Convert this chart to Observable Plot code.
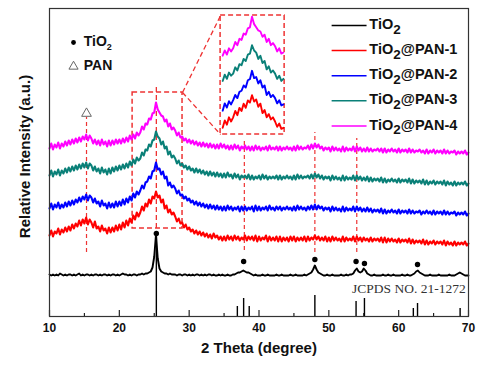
<!DOCTYPE html>
<html><head><meta charset="utf-8">
<script src="https://cdn.jsdelivr.net/npm/d3@7"></script>
<script src="https://cdn.jsdelivr.net/npm/@observablehq/plot@0.6"></script>
<style>html,body{margin:0;padding:0;background:#fff;}#chart{width:490px;height:369px;}</style>
</head><body><div id="chart"></div>
<script>
// ---- data ----
const seriesNames = ["TiO2", "TiO2@PAN-1", "TiO2@PAN-2", "TiO2@PAN-3", "TiO2@PAN-4"];
const seriesColors = ["#000000", "#ff0000", "#0000ff", "#0a8078", "#ff00ff"];
const thetaStart = 10, thetaStep = 0.25;   // 2θ sampling grid, 10–70°
const tio2 = [
42,41,42,41, 42,41,43,42, 41,42,41,42, 42,41,42,41, 42,43,41,42, 41,42,42,41, 42,41,42,42, 41,42,41,42, 42,41,42,41, 42,42,41,42,
41,42,43,42, 42,41,42,41, 42,42,41,42, 42,43,42,43, 43,44,45,49, 60,82,58,48, 45,44,43,43, 42,43,42,42, 42,41,42,42, 41,42,42,41,
42,41,42,41, 42,42,41,42, 41,42,41,42, 42,41,42,41, 41,42,41,42, 41,41,42,41, 41,42,42,43, 44,44,45,46, 45,44,44,43, 42,41,42,41,
41,41,42,41, 41,42,41,41, 41,41,42,41, 41,42,41,41, 41,41,42,41, 41,42,41,41, 41,41,42,41, 42,43,44,47, 51,47,44,43, 42,41,41,42,
41,41,42,41, 41,41,41,42, 41,41,42,41, 42,42,43,46, 48,45,44,45, 48,46,43,42, 41,41,42,41, 41,41,41,42, 41,41,42,41, 41,42,41,41,
41,41,42,41, 41,42,41,41, 42,43,45,46, 44,43,42,41, 41,41,42,41, 41,41,41,42, 41,41,41,41, 41,42,41,41, 41,42,43,44, 43,42,41,41,
41];
const pan1 = [
81,86,80,85, 83,88,82,87, 84,89,85,90, 86,92,88,93, 90,96,91,97, 93,99,92,97, 94,89,95,88, 90,85,91,86, 88,83,89,84, 89,85,91,86,
92,87,94,89, 96,91,98,94, 101,97,104,100, 104,110,106,113, 110,117,113,120, 118,125,119,121, 114,117,108,111, 104,107,102,104, 100,95,98,93, 94,89,92,87,
89,85,87,83, 86,82,85,81, 84,80,83,79, 82,78,83,79, 81,77,80,76, 80,76,81,77, 80,76,81,77, 80,76,79,77, 81,76,80,77, 80,76,81,75,
80,76,79,77, 81,75,80,76, 79,76,80,75, 80,75,79,76, 79,75,80,76, 80,75,79,76, 79,76,80,75, 80,76,79,77, 81,77,80,76, 79,76,80,75,
79,75,80,76, 79,76,78,75, 80,75,79,76, 78,76,80,75, 80,76,79,75, 79,76,78,75, 79,75,78,76, 78,75,79,74, 79,74,78,75, 78,75,77,74,
78,74,77,75, 77,74,78,73, 77,73,76,74, 76,73,77,72, 76,72,75,73, 76,72,75,73, 75,72,76,71, 75,72,74,71, 75,71,74,72, 74,72,75,71,
73];
const pan2 = [
108,113,107,112, 109,114,108,112, 109,114,110,115, 111,116,112,117, 114,119,115,120, 117,122,116,121, 119,114,118,113, 115,110,116,111, 113,108,114,109, 113,109,115,110,
115,111,117,112, 118,114,120,116, 123,119,125,122, 126,131,128,134, 135,140,138,145, 146,154,147,148, 142,145,138,140, 131,134,129,131, 128,123,126,121, 122,118,120,116,
118,114,116,112, 115,111,114,110, 113,109,112,108, 112,108,111,107, 111,107,110,106, 110,106,111,107, 110,106,109,107, 110,105,110,106, 110,106,109,107, 110,105,111,106,
110,106,109,107, 110,106,111,107, 109,106,110,107, 110,106,109,107, 110,107,109,106, 110,106,111,107, 110,107,109,106, 110,107,111,107, 112,107,111,108, 110,106,109,107,
109,105,110,106, 109,106,108,105, 110,105,109,106, 108,106,110,105, 110,106,109,105, 108,105,109,105, 108,104,107,105, 107,104,108,103, 107,103,106,104, 107,104,106,103,
107,103,106,104, 106,103,107,103, 106,103,105,104, 106,102,105,103, 106,103,105,102, 106,102,105,103, 105,102,106,102, 105,102,104,103, 105,101,104,102, 104,102,105,101,
103];
const pan3 = [
141,146,140,145, 142,147,141,146, 143,148,144,149, 145,150,146,151, 147,152,148,153, 149,154,148,153, 151,146,150,145, 148,143,149,144, 147,142,148,143, 149,145,150,146,
151,147,152,148, 153,149,155,151, 157,153,159,156, 158,164,161,167, 166,172,170,176, 177,185,180,178, 172,175,168,170, 162,165,159,161, 158,153,156,151, 153,149,151,147,
150,146,148,144, 148,144,147,143, 146,142,145,141, 145,141,144,140, 144,140,143,139, 143,139,144,140, 142,138,143,139, 142,137,141,139, 141,138,142,137, 141,137,140,138,
141,137,142,138, 141,137,140,138, 140,138,141,137, 141,137,140,138, 141,138,140,137, 141,137,142,138, 141,138,140,139, 141,138,142,138, 143,139,142,138, 141,137,140,138,
140,136,141,137, 140,137,139,136, 141,136,140,137, 139,137,141,136, 141,137,140,136, 139,136,140,135, 139,135,138,136, 138,135,139,134, 138,134,137,135, 138,135,137,134,
138,134,137,135, 137,134,138,133, 137,133,136,134, 136,133,137,132, 136,132,135,133, 136,132,135,133, 135,132,136,131, 135,132,134,131, 135,131,134,132, 134,132,135,131,
133];
const pan4 = [
168,173,167,172, 169,174,168,173, 170,175,171,176, 172,177,173,178, 174,179,175,180, 177,182,176,181, 178,173,177,172, 176,171,177,172, 175,170,176,171, 176,172,177,173,
177,173,178,174, 179,175,181,177, 182,178,184,181, 184,190,187,193, 192,198,197,203, 204,214,207,204, 201,200,195,197, 190,193,187,189, 186,181,184,179, 180,176,178,174,
177,173,176,172, 175,171,174,170, 174,170,173,169, 173,169,172,168, 172,168,173,169, 172,168,171,167, 171,167,172,168, 171,166,170,168, 171,167,170,166, 170,166,171,167,
170,166,169,167, 170,166,171,167, 169,167,170,166, 170,166,169,167, 170,167,169,166, 170,166,171,167, 170,167,169,168, 171,167,172,168, 173,169,172,168, 170,166,169,167,
169,165,170,166, 169,166,168,165, 170,165,169,166, 168,166,170,165, 170,166,169,165, 168,165,169,165, 168,165,167,166, 168,165,168,164, 168,164,167,165, 168,165,167,164,
168,164,167,165, 167,164,168,164, 167,164,166,165, 167,164,166,163, 167,163,166,164, 167,163,166,164, 166,163,167,163, 166,163,165,164, 166,162,165,163, 165,163,166,162,
164];
const seriesValues = [tio2, pan1, pan2, pan3, pan4];

// JCPDS No. 21-1272 reference lines
const jcpdsPos = [25.3, 36.9, 37.8, 38.6, 48.0, 53.9, 55.1, 62.1, 62.7, 68.8];
const jcpdsInt = [80, 10, 18, 10, 21, 15, 18, 8, 13, 8];
// TiO2 peak markers (dots) and PAN peak marker (triangle)
const tio2PeakPos = [25.3, 37.8, 48.0, 53.9, 55.1, 62.7];
const tio2PeakMark = [83, 55, 57, 55, 53, 52];
const panPeakPos = [15.3];
const panPeakMark = [203];
// dashed guide lines
const guidePos = [15.3, 37.9, 48.0, 54.0];
const guideTop = [199, 176, 184, 178];
const guideBottom = [64, 66, 64, 64];
// axis ticks
const xTicks = [10, 20, 30, 40, 50, 60, 70];
const xMinorTicks = [15, 25, 35, 45, 55, 65];
// zoom box and inset
const zoomBox = [{x1: 21.9, x2: 29.05, y1: 88, y2: 224}];
const zoomCenter = [{x: 25.3, y1: 88, y2: 229}];
const insetBox = [{x1: 34.5, x2: 43.67, y1: 182, y2: 301}];
const insetRange = [21.75, 29];
const insetX0 = 34.8, insetXScale = 1.2, insetYScale = 1.05;
const insetShift = [0, 90, 84, 77, 75];

// ---- build tables ----
const rows = [];
seriesValues.forEach((vals, s) => vals.forEach((v, k) => rows.push({theta: thetaStart + k * thetaStep, intensity: v, series: seriesNames[s]})));
const insetRows = rows.filter(d => d.series !== "TiO2" && d.theta >= insetRange[0] && d.theta <= insetRange[1])
  .map(d => {
    const s = seriesNames.indexOf(d.series);
    return {x: insetX0 + (d.theta - insetRange[0]) * insetXScale, y: d.intensity * insetYScale + insetShift[s], series: d.series};
  });
const sticks = jcpdsPos.map((p, i) => ({x: p, h: jcpdsInt[i]}));
const dots = tio2PeakPos.map((p, i) => ({x: p, y: tio2PeakMark[i]}));
const tri = panPeakPos.map((p, i) => ({x: p, y: panPeakMark[i]}));
const guides = guidePos.map((p, i) => ({x: p, y1: guideBottom[i], y2: guideTop[i]}));
const connectors = [
  {x1: zoomBox[0].x2, y1: zoomBox[0].y2, x2: insetBox[0].x1, y2: insetBox[0].y2},
  {x1: zoomBox[0].x2, y1: zoomBox[0].y2, x2: insetBox[0].x1, y2: insetBox[0].y1}
];
const legendRows = seriesNames.map((n, i) => ({name: n, y: 291 - i * 25.1}));

const dashRed = "#ee3333";
const chart = Plot.plot({
  width: 490, height: 369,
  marginLeft: 49, marginRight: 22, marginTop: 8, marginBottom: 53,
  x: {domain: [10, 70], axis: null},
  y: {domain: [0, 308], axis: null},
  color: {domain: seriesNames, range: seriesColors},
  style: {fontFamily: "'Liberation Sans', Arial, sans-serif", background: "white", color: "#111"},
  marks: [
    Plot.axisX({ticks: xTicks, tickSize: 0, tickPadding: 7, fontSize: 12, fontWeight: "bold", label: null, tickFormat: d => String(d)}),
    Plot.ruleX(xTicks, {x: d => d, y1: 0, y2: 6, stroke: "#222", strokeWidth: 1.2}),
    Plot.ruleX(xMinorTicks, {x: d => d, y1: 0, y2: 3, stroke: "#222", strokeWidth: 1.2}),
    Plot.ruleX(sticks, {x: "x", y1: 0, y2: "h", stroke: "#000", strokeWidth: 1.4}),
    Plot.ruleX(guides, {x: "x", y1: "y1", y2: "y2", stroke: dashRed, strokeWidth: 1.2, strokeDasharray: "4,3"}),
    Plot.rect(zoomBox, {x1: "x1", x2: "x2", y1: "y1", y2: "y2", fill: "none", stroke: dashRed, strokeWidth: 1.5, strokeDasharray: "5,3"}),
    Plot.ruleX(zoomCenter, {x: "x", y1: "y1", y2: "y2", stroke: dashRed, strokeWidth: 1.3, strokeDasharray: "5,3"}),
    Plot.rect(insetBox, {x1: "x1", x2: "x2", y1: "y1", y2: "y2", fill: "none", stroke: dashRed, strokeWidth: 1.5, strokeDasharray: "5,3"}),
    Plot.link(connectors, {x1: "x1", y1: "y1", x2: "x2", y2: "y2", stroke: dashRed, strokeWidth: 1.3, strokeDasharray: "5,3"}),
    Plot.line(rows, {filter: d => d.series === "TiO2", x: "theta", y: "intensity", z: "series", stroke: "series", strokeWidth: 1.9}),
    Plot.line(rows, {filter: d => d.series !== "TiO2", x: "theta", y: "intensity", z: "series", stroke: "series", strokeWidth: 2.1}),
    Plot.line(insetRows, {x: "x", y: "y", z: "series", stroke: "series", strokeWidth: 1.9}),
    Plot.dot(dots, {x: "x", y: "y", r: 2.7, fill: "#000"}),
    Plot.dot(tri, {x: "x", y: "y", symbol: "triangle", r: 3.6, fill: "white", stroke: "#666", strokeWidth: 1}),
    Plot.text(["JCPDS NO. 21-1272"], {x: 69.6, y: 28, textAnchor: "end", fontSize: 13.5, fontFamily: "'Liberation Serif', 'Times New Roman', serif", fill: "#333"}),
    Plot.dot([{x: 13.44, y: 274}], {x: "x", y: "y", r: 2.4, fill: "#000"}),
    Plot.dot([{x: 13.44, y: 250}], {x: "x", y: "y", symbol: "triangle", r: 3.4, fill: "white", stroke: "#666", strokeWidth: 1}),
    Plot.text(["TiO2"], {x: 14.9, y: 275, textAnchor: "start", fontSize: 14, fontWeight: "bold"}),
    Plot.text(["PAN"], {x: 14.9, y: 251, textAnchor: "start", fontSize: 14, fontWeight: "bold"}),
    Plot.link(legendRows, {x1: 50.4, x2: 55.4, y1: "y", y2: "y", stroke: "name", strokeWidth: 1.5}),
    Plot.text(legendRows, {x: 55.8, y: "y", text: "name", textAnchor: "start", fontSize: 14.5, fontWeight: "bold", dy: -1}),
    Plot.text(["Relative Intensity (a.u.)"], {frameAnchor: "left", textAnchor: "middle", lineAnchor: "middle", rotate: -90, dx: -24, dy: -6, fontSize: 15, fontWeight: "bold"}),
    Plot.text(["2 Theta (degree)"], {frameAnchor: "bottom", textAnchor: "middle", lineAnchor: "middle", dy: 32, fontSize: 15, fontWeight: "bold"}),
    Plot.frame({stroke: "#333", strokeWidth: 1.2})
  ]
});
document.getElementById("chart").appendChild(chart);

// subscripts for "TiO2"
const NS = "http://www.w3.org/2000/svg";
chart.querySelectorAll("text").forEach(t => {
  const s = t.textContent;
  if (!s.startsWith("TiO2")) return;
  const holder = t.closest("[font-size]");
  const legend = holder && holder.getAttribute("font-size") === "14.5";
  const rest = s.slice(4);
  t.textContent = "";
  const a = document.createElementNS(NS, "tspan"); a.textContent = "TiO";
  const b = document.createElementNS(NS, "tspan"); b.textContent = "2";
  b.setAttribute("dy", legend ? "4.5" : "4");
  b.setAttribute("font-size", legend ? "13.5" : "9");
  t.appendChild(a); t.appendChild(b);
  if (rest) {
    const c = document.createElementNS(NS, "tspan"); c.textContent = rest;
    c.setAttribute("dy", legend ? "-4.5" : "-4");
    t.appendChild(c);
  }
});
</script>
</body></html>
